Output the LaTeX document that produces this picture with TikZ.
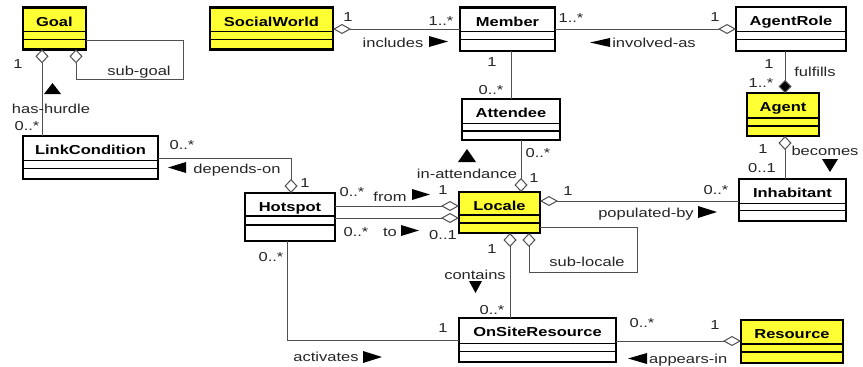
\documentclass[tikz,border=0pt]{standalone}
\usepackage{fontspec}
\setmainfont{Liberation Sans}[FakeStretch=1.27]
\usetikzlibrary{arrows.meta}
\definecolor{clsyellow}{RGB}{255,255,51}
\definecolor{conn}{RGB}{80,80,80}
\tikzset{
  clsbox/.style={draw=black, line width=2.4pt, rectangle, inner sep=0pt, outer sep=0pt},
  clsline/.style={draw=black, line width=1.2pt},
  clstitle/.style={font=\fontsize{13}{15}\selectfont\bfseries, inner sep=0pt, anchor=base},
  lbl/.style={font=\fontsize{13}{15}\selectfont, inner sep=0pt, anchor=base, text=black!85},
  assoc/.style={draw=conn, line width=1pt},
  hdia/.tip={Diamond[length=18pt,width=10pt,fill=white]},
  vdia/.tip={Diamond[length=14pt,width=13pt,fill=white]},
  vfdia/.tip={Diamond[length=13pt,width=13pt,fill=black]},
  tri/.style={fill=black}
}
% name, x1, y1, x2, y2, line1, line2, title, fill
\newcommand\umlcls[9]{%
  \node[clsbox, fill=#9, minimum width={#4-#2}, minimum height={#5-#3}] (#1) at ({(#2+#4)/2},{(#3+#5)/2}) {};
  \draw[clsline] (#2,#6) -- (#4,#6) (#2,#7) -- (#4,#7);
  \node[clstitle] at ({(#2+#4)/2},{#3+18.7}) {#8};
}
\begin{document}
\begin{tikzpicture}[x=1pt,y=-1pt]
\fill[white] (0,0) rectangle (863,367);
\useasboundingbox (0,0) rectangle (863,367);

\umlcls{goal}{22.7}{7.3}{86}{49.3}{31.7}{39.3}{Goal}{clsyellow}
\umlcls{sw}{210}{7.3}{333}{49.3}{31.7}{39.3}{SocialWorld}{clsyellow}
\umlcls{member}{460}{7.3}{555}{50.7}{31.7}{39.3}{Member}{white}
\umlcls{agentrole}{736}{7}{846}{51}{31.7}{39.3}{AgentRole}{white}
\umlcls{attendee}{462}{99}{560}{140}{123.4}{131}{Attendee}{white}
\umlcls{agent}{747}{93}{819}{136}{118}{126}{Agent}{clsyellow}
\umlcls{lc}{23}{136}{158}{179}{160.7}{168.3}{LinkCondition}{white}
\umlcls{hotspot}{245}{193}{335}{241}{216}{225}{Hotspot}{white}
\umlcls{locale}{459}{192}{540}{233}{215}{223}{Locale}{clsyellow}
\umlcls{inhabitant}{739}{179}{846}{221}{203.3}{210.7}{Inhabitant}{white}
\umlcls{osr}{459}{318}{616}{362}{343.3}{351.7}{OnSiteResource}{white}
\umlcls{resource}{741}{320}{843}{363}{344}{352}{Resource}{clsyellow}

% connectors
\draw[assoc, vdia-] (goal.south -| 42,0) -- (lc.north -| 42,0);
\draw[assoc, -vdia] (goal.east |- 0,40) -| (183,79) -| (goal.south -| 76,0);
\draw[assoc, hdia-] (sw.east |- 0,29) -- (member.west |- 0,29);
\draw[assoc, -hdia] (member.east |- 0,29) -- (agentrole.west |- 0,29);
\draw[assoc] (member.south -| 511,0) -- (attendee.north -| 511,0);
\draw[assoc, -vfdia] (agentrole.south -| 785,0) -- (agent.north -| 785,0);
\draw[assoc, vdia-] (agent.south -| 785,0) -- (inhabitant.north -| 785,0);
\draw[assoc, -vdia] (attendee.south -| 521,0) -- (locale.north -| 521,0);
\draw[assoc, -vdia] (lc.east |- 0,158) -| (hotspot.north -| 291,0);
\draw[assoc, -hdia] (hotspot.east |- 0,206) -- (locale.west |- 0,206);
\draw[assoc, -hdia] (hotspot.east |- 0,218) -- (locale.west |- 0,218);
\draw[assoc, hdia-] (locale.east |- 0,201) -- (inhabitant.west |- 0,201);
\draw[assoc, vdia-] (locale.south -| 510,0) -- (osr.north -| 510,0);
\draw[assoc, vdia-] (locale.south -| 529,0) |- (637,272) |- (locale.east |- 0,227);
\draw[assoc] (hotspot.south -| 287,0) |- (osr.west |- 0,340);
\draw[assoc, -hdia] (osr.east |- 0,341) -- (resource.west |- 0,341);

% labels
\node[lbl] (l1) at (18,68) {1};
\node[lbl] (l2) at (51,113) {has-hurdle};
\node[lbl] (l3) at (27,130) {0..*};
\node[lbl] (l4) at (139,75) {sub-goal};
\node[lbl] (l5) at (348,21) {1};
\node[lbl] (l6) at (441,25) {1..*};
\node[lbl] (l7) at (393,47) {includes};
\node[lbl] (l8) at (571,22) {1..*};
\node[lbl] (l9) at (715,21) {1};
\node[lbl] (l10) at (654,47) {involved-as};
\node[lbl] (l11) at (492,66) {1};
\node[lbl] (l12) at (491,94) {0..*};
\node[lbl] (l13) at (769,68) {1};
\node[lbl] (l14) at (815,76) {fulfills};
\node[lbl] (l15) at (761,87) {1..*};
\node[lbl] (l16) at (763,153) {1};
\node[lbl] (l17) at (825,155) {becomes};
\node[lbl] (l18) at (762,172) {0..1};
\node[lbl] (l19) at (182,149) {0..*};
\node[lbl] (l20) at (237,173) {depends-on};
\node[lbl] (l21) at (305,187) {1};
\node[lbl] (l22) at (352,196) {0..*};
\node[lbl] (l23) at (390,201) {from};
\node[lbl] (l24) at (443,194) {1};
\node[lbl] (l25) at (356,236) {0..*};
\node[lbl] (l26) at (390,236) {to};
\node[lbl] (l27) at (443,239) {0..1};
\node[lbl] (l28) at (467,178) {in-attendance};
\node[lbl] (l29) at (538,157) {0..*};
\node[lbl] (l30) at (534,182) {1};
\node[lbl] (l31) at (568,195) {1};
\node[lbl] (l32) at (716,194) {0..*};
\node[lbl] (l33) at (646,217) {populated-by};
\node[lbl] (l34) at (492,253) {1};
\node[lbl] (l35) at (475,279) {contains};
\node[lbl] (l36) at (492,314) {0..*};
\node[lbl] (l37) at (587,266) {sub-locale};
\node[lbl] (l38) at (271,261) {0..*};
\node[lbl] (l39) at (443,332) {1};
\node[lbl] (l40) at (326,361) {activates};
\node[lbl] (l41) at (642,327) {0..*};
\node[lbl] (l42) at (715,329) {1};
\node[lbl, anchor=base west] (l43) at (649,363.5) {appears-in};

% direction triangles
\fill[tri] (44,94) -- (61,94) -- (52.5,83) -- cycle;
\fill[tri] (429,36) -- (429,47) -- (448,41.5) -- cycle;
\fill[tri] (610,38) -- (610,47) -- (590,42.5) -- cycle;
\fill[tri] (186,162) -- (186,173) -- (168,167.5) -- cycle;
\fill[tri] (412,189) -- (412,200) -- (430,194.5) -- cycle;
\fill[tri] (401,225) -- (401,236) -- (419,230.5) -- cycle;
\fill[tri] (698,206) -- (698,218) -- (717,212) -- cycle;
\fill[tri] (458,162) -- (476,162) -- (467,149) -- cycle;
\fill[tri] (469,281) -- (482,281) -- (475.5,293) -- cycle;
\fill[tri] (822,159) -- (838,159) -- (830,172) -- cycle;
\fill[tri] (363,351) -- (363,363) -- (382,357) -- cycle;
\fill[tri] (647,353) -- (647,364) -- (628,358.5) -- cycle;
\end{tikzpicture}
\end{document}
